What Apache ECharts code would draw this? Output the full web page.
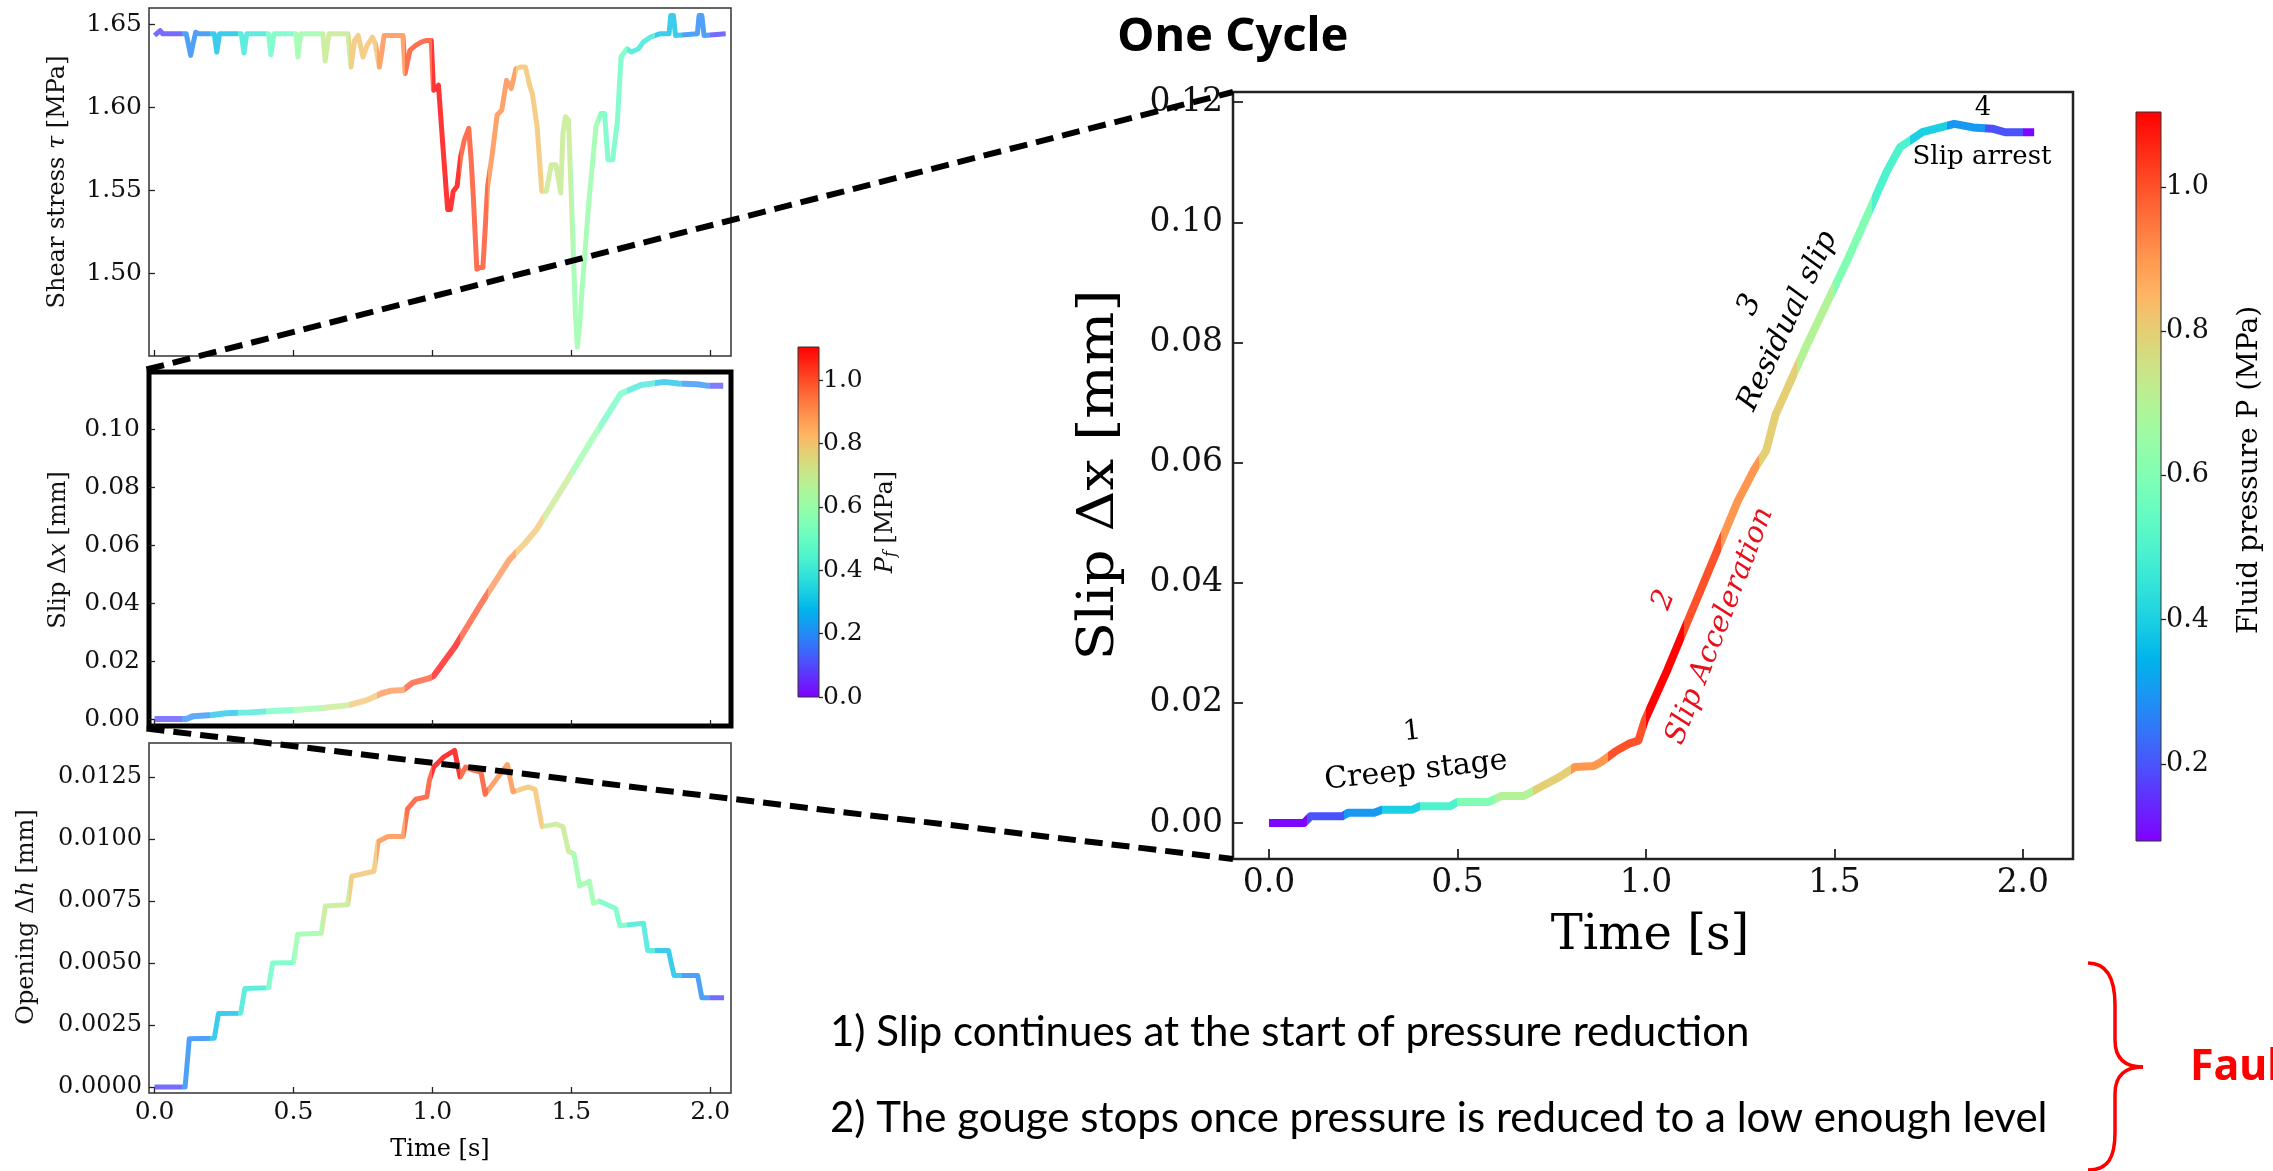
<!DOCTYPE html>
<html><head><meta charset="utf-8">
<script src="https://cdn.jsdelivr.net/npm/echarts@6/dist/echarts.min.js"></script>
<style>html,body{margin:0;padding:0;background:#fff}#c{width:2273px;height:1171px}</style>
</head><body><div id="c"></div>
<script>
// ---------------- data ----------------
const shearTime = [0.000,0.020,0.030,0.114,0.122,0.130,0.138,0.148,0.160,0.215,0.224,0.234,0.312,0.322,0.332,0.410,0.419,0.430,0.509,0.516,0.526,0.606,0.614,0.628,0.696,0.707,0.720,0.733,0.745,0.750,0.765,0.784,0.795,0.809,0.818,0.826,0.894,0.902,0.919,0.940,0.960,0.979,0.996,1.004,1.015,1.022,1.038,1.055,1.065,1.075,1.089,1.102,1.115,1.131,1.140,1.148,1.160,1.172,1.182,1.199,1.216,1.233,1.250,1.267,1.284,1.301,1.318,1.335,1.350,1.360,1.377,1.394,1.410,1.428,1.445,1.462,1.470,1.479,1.490,1.505,1.515,1.522,1.532,1.539,1.564,1.589,1.606,1.620,1.632,1.649,1.666,1.679,1.700,1.717,1.742,1.759,1.785,1.818,1.852,1.858,1.868,1.875,1.954,1.960,1.970,1.978,2.056];
const shearStress = [1.6434,1.6464,1.6444,1.6444,1.6380,1.6314,1.6380,1.6454,1.6444,1.6444,1.6334,1.6444,1.6444,1.6328,1.6444,1.6444,1.6318,1.6444,1.6444,1.6304,1.6444,1.6444,1.6280,1.6444,1.6444,1.6244,1.6404,1.6434,1.6344,1.6304,1.6374,1.6424,1.6384,1.6244,1.6334,1.6434,1.6434,1.6204,1.6344,1.6374,1.6394,1.6404,1.6404,1.6104,1.6114,1.6134,1.5764,1.5384,1.5384,1.5494,1.5524,1.5704,1.5804,1.5874,1.5674,1.5444,1.5024,1.5034,1.5034,1.5524,1.5724,1.5954,1.5984,1.6164,1.6114,1.6234,1.6244,1.6244,1.6134,1.6084,1.5884,1.5494,1.5494,1.5654,1.5654,1.5484,1.5844,1.5944,1.5924,1.5244,1.4754,1.4554,1.4724,1.4904,1.5444,1.5884,1.5964,1.5964,1.5684,1.5684,1.5914,1.6304,1.6354,1.6334,1.6354,1.6394,1.6424,1.6444,1.6444,1.6554,1.6554,1.6434,1.6444,1.6554,1.6554,1.6434,1.6444];

const slipSmallTime = [0,0.114,0.139,0.207,0.258,0.343,0.427,0.529,0.614,0.699,0.767,0.818,0.852,0.894,0.928,0.987,1.004,1.081,1.182,1.276,1.335,1.377,1.471,1.581,1.679,1.751,1.835,1.886,1.954,1.988,2.047];
const slipSmall = [0,0,0.0010,0.0014,0.0020,0.0023,0.0028,0.0033,0.0039,0.0048,0.0066,0.0089,0.0098,0.0100,0.0125,0.0140,0.0148,0.0249,0.0408,0.0548,0.0608,0.0657,0.0801,0.0974,0.1123,0.1152,0.1163,0.1157,0.1155,0.1150,0.1150];

const openingTime = [0,0.110,0.125,0.215,0.230,0.310,0.325,0.410,0.425,0.500,0.515,0.600,0.615,0.695,0.710,0.790,0.805,0.840,0.895,0.910,0.940,0.980,0.990,1.005,1.040,1.070,1.080,1.100,1.120,1.140,1.175,1.190,1.270,1.290,1.345,1.370,1.395,1.445,1.470,1.490,1.510,1.530,1.565,1.580,1.600,1.660,1.675,1.760,1.775,1.850,1.870,1.955,1.970,2.050];
const opening = [0,0,0.00195,0.00197,0.00296,0.00298,0.00397,0.00400,0.00500,0.00502,0.00616,0.00620,0.00730,0.00735,0.00850,0.00870,0.00990,0.01010,0.01010,0.01120,0.01160,0.01170,0.01240,0.01290,0.01330,0.01350,0.01357,0.01250,0.01290,0.01280,0.01270,0.01180,0.01300,0.01190,0.01210,0.01200,0.01050,0.01060,0.01050,0.00950,0.00940,0.00810,0.00830,0.00740,0.00750,0.00720,0.00650,0.00660,0.00550,0.00550,0.00450,0.00450,0.00360,0.00360];

const slipBigTime = [0,0.093,0.110,0.194,0.210,0.279,0.300,0.380,0.400,0.480,0.500,0.583,0.617,0.676,0.718,0.769,0.811,0.862,0.880,0.921,0.955,0.980,0.997,1.057,1.150,1.243,1.285,1.319,1.344,1.430,1.538,1.640,1.674,1.733,1.818,1.868,1.919,1.953,2.030];
const slipBig = [0,0,0.0011,0.0011,0.0017,0.0017,0.0022,0.0022,0.0028,0.0028,0.0035,0.0035,0.0045,0.0045,0.0059,0.0076,0.0093,0.0095,0.0101,0.0120,0.0132,0.0137,0.0171,0.0255,0.0395,0.0535,0.0586,0.0620,0.0680,0.0800,0.0942,0.1086,0.1125,0.1150,0.1164,0.1158,0.1156,0.1150,0.1150];

// fluid pressure schedule (step starts in s, value in MPa)
const pressureStart = [0.0,0.1,0.2,0.3,0.4,0.5,0.6,0.7,0.8,0.9,1.0,1.1,1.2,1.3,1.4,1.5,1.6,1.7,1.8,1.9,2.0];
const pressure      = [0.1,0.2,0.3,0.4,0.5,0.6,0.7,0.8,0.9,1.0,1.1,1.0,0.9,0.8,0.7,0.6,0.5,0.4,0.3,0.2,0.1];

// tick labels
const timeTicks = [0.0,0.5,1.0,1.5,2.0];
const shearTicks = [1.50,1.55,1.60,1.65];
const slipSmallTicks = [0.00,0.02,0.04,0.06,0.08,0.10];
const openingTicks = [0.0000,0.0025,0.0050,0.0075,0.0100,0.0125];
const slipBigTicks = [0.00,0.02,0.04,0.06,0.08,0.10,0.12];
const pfTicks = [0.0,0.2,0.4,0.6,0.8,1.0];
const fluidTicks = [0.2,0.4,0.6,0.8,1.0];

// ---------------- layout ----------------
const SERIF = 'DejaVu Serif';
const SANS = 'Noto Sans';
const G = {
  top: {left:149, top:8,   width:582, height:348},
  mid: {left:149, top:372, width:582, height:354},
  bot: {left:149, top:743, width:582, height:350},
  big: {left:1233, top:92, width:840, height:767},
  cb1: {left:798, top:347, width:21, height:350},
  cb2: {left:2136, top:112, width:25, height:729}
};

function rainbow(x){
  x = Math.max(0, Math.min(1, x));
  const r = Math.min(1, Math.abs(2*x-0.5)), g = Math.sin(Math.PI*x), b = Math.cos(Math.PI*x/2);
  return 'rgb(' + Math.round(r*255) + ',' + Math.round(g*255) + ',' + Math.round(b*255) + ')';
}
function pieces(lo, hi){
  return pressureStart.map((s,i) => ({
    gte: i === 0 ? -10 : s,
    lt: i === pressureStart.length-1 ? 10 : pressureStart[i+1],
    color: rainbow((pressure[i]-lo)/(hi-lo))
  }));
}
function gradient(){
  const stops = [];
  for (let i=0;i<=20;i++) stops.push({offset:i/20, color: rainbow(1-i/20)});
  return {type:'linear', x:0, y:0, x2:0, y2:1, colorStops: stops};
}
const zip = (a,b) => a.slice(0, Math.min(a.length,b.length)).map((v,i)=>[v,b[i]]);

function axis(gi, min, max, o){
  return {
    gridIndex: gi, type:'value', min, max, show: o.show !== false,
    position: o.position,
    axisLine: {show:false, onZero:false},
    splitLine: {show:false},
    axisTick: {show: !!o.ticks, inside: o.inside !== false, length: o.tickLen || 6,
      customValues: o.ticks, lineStyle:{color:'#222', width: o.tickW || 1.3}},
    axisLabel: {show: !!o.labels, customValues: o.ticks, margin: o.margin || 8,
      formatter: v => Number(v).toFixed(o.dec), fontFamily: SERIF, fontSize: o.fs || 25, color:'#111'}
  };
}

const grids = [G.top, G.mid, G.bot, G.big, G.cb1, G.cb2].map((g,i) => Object.assign({}, g, {
  show: true, containLabel: false,
  backgroundColor: i >= 4 ? gradient() : 'transparent',
  borderColor: i === 1 ? '#000' : (i === 3 ? '#222' : '#333'),
  borderWidth: i === 1 ? 5 : (i === 3 ? 2.5 : (i >= 4 ? 1 : 1.5))
}));

const xAxes = [
  axis(0, -0.02, 2.075, {ticks: timeTicks, labels:false, dec:1}),
  axis(1, -0.02, 2.075, {ticks: timeTicks, labels:false, dec:1}),
  axis(2, -0.02, 2.075, {ticks: timeTicks, labels:true, dec:1, fs:25, margin:7}),
  axis(3, -0.0955, 2.133, {ticks: timeTicks, labels:true, dec:1, fs:33, margin:8, tickLen:10, tickW:1.8}),
  {gridIndex:4, type:'value', show:false, min:0, max:1},
  {gridIndex:5, type:'value', show:false, min:0, max:1}
];
const yAxes = [
  axis(0, 1.45, 1.66, {ticks: shearTicks, labels:true, dec:2, fs:25, margin:7}),
  axis(1, -0.0024, 0.1197, {ticks: slipSmallTicks, labels:true, dec:2, fs:25, margin:9}),
  axis(2, -0.00024, 0.01387, {ticks: openingTicks, labels:true, dec:4, fs:24, margin:7}),
  axis(3, -0.006, 0.1217, {ticks: slipBigTicks, labels:true, dec:2, fs:33, margin:10, tickLen:10, tickW:1.8}),
  axis(4, 0, 1.105, {ticks: pfTicks, labels:true, dec:1, fs:25, margin:4, inside:false, tickLen:4, position:'right'}),
  axis(5, 0.093, 1.104, {ticks: fluidTicks, labels:true, dec:1, fs:27, margin:5, inside:false, tickLen:5, position:'right'})
];

function lineSeries(i, data, width, opacity){
  return {type:'line', xAxisIndex:i, yAxisIndex:i, data, showSymbol:false, symbol:'none',
    animation:false, z: 3,
    lineStyle:{width, opacity, cap:'butt', join:'round'}};
}
const series = [
  lineSeries(0, zip(shearTime, shearStress), 5, 0.8),
  lineSeries(1, zip(slipSmallTime, slipSmall), 6, 0.72),
  lineSeries(2, zip(openingTime, opening), 5, 0.8),
  lineSeries(3, zip(slipBigTime, slipBig), 8, 1)
];
const visualMap = [
  {type:'piecewise', show:false, seriesIndex:0, dimension:0, pieces: pieces(0, 1.105)},
  {type:'piecewise', show:false, seriesIndex:1, dimension:0, pieces: pieces(0, 1.105)},
  {type:'piecewise', show:false, seriesIndex:2, dimension:0, pieces: pieces(0, 1.105)},
  {type:'piecewise', show:false, seriesIndex:3, dimension:0, pieces: pieces(0.093, 1.104)}
];

// ---------------- annotations ----------------
function txt(x, y, text, o){
  o = o || {};
  return {type:'text', x, y, rotation: o.rot || 0, scaleX: o.sx || 1, z: 50, silent:true,
    style:{text, fill: o.fill || '#000', fontSize: o.fs || 24, fontFamily: o.ff || SERIF,
      fontStyle: o.italic ? 'italic' : 'normal', fontWeight: o.bold ? 'bold' : 'normal',
      textAlign: o.align || 'center', textVerticalAlign: 'middle', rich: o.rich}};
}
const R90 = Math.PI/2;
const richSmall = {
  n:{fontFamily:SERIF, fontSize:24, fill:'#111'},
  i:{fontFamily:SERIF, fontSize:24, fontStyle:'italic', fill:'#111'},
  s:{fontFamily:SERIF, fontSize:16, fontStyle:'italic', fill:'#111', padding:[10,0,0,0]}
};
const mid = G.mid, big = G.big;
const dash = {stroke:'#000', lineWidth:6, lineDash:[18,9]};
const red = '#ff0000';
const BUL = 'Lato';
const graphic = [
  // zoom lines from the boxed slip panel to the enlarged cycle
  {type:'line', z:100, silent:true, shape:{x1: mid.left-2.5, y1: mid.top-2.5, x2: big.left, y2: big.top}, style: dash},
  {type:'line', z:100, silent:true, shape:{x1: mid.left-2.5, y1: mid.top+mid.height+2.5, x2: big.left, y2: big.top+big.height}, style: dash},
  txt(1233, 38, 'One Cycle', {ff:SANS, bold:true, fs:47}),
  txt(58, 182, '{n|Shear stress }{i|τ}{n| [MPa]}', {rot:R90, rich:richSmall}),
  txt(59, 550, '{n|Slip Δ}{i|x}{n| [mm]}', {rot:R90, rich:richSmall}),
  txt(27, 917, '{n|Opening Δ}{i|h}{n| [mm]}', {rot:R90, rich:richSmall}),
  txt(440, 1150, 'Time [s]', {fs:24}),
  txt(886, 522, '{i|P}{s|f}{n| [MPa]}', {rot:R90, rich:richSmall}),
  txt(1100, 475, 'Slip Δx [mm]', {rot:R90, fs:50, sx:1.13}),
  txt(1650, 937, 'Time [s]', {fs:48}),
  txt(2250, 470, 'Fluid pressure P (MPa)', {rot:R90, fs:28}),
  txt(1412, 732, '1', {fs:28, rot:0.11}),
  txt(1416, 771, 'Creep stage', {fs:30, rot:0.11}),
  txt(1664, 600, '2', {fs:29, rot:1.2, italic:true, fill:'#e8101a'}),
  txt(1720, 626, 'Slip Acceleration', {fs:29, rot:1.2, italic:true, fill:'#e8101a'}),
  txt(1750, 305, '3', {fs:30, rot:1.13, italic:true}),
  txt(1788, 321, 'Residual slip', {fs:30, rot:1.13, italic:true}),
  txt(1983, 108, '4', {fs:26}),
  txt(1982, 157, 'Slip arrest', {fs:26}),
  txt(830, 1032, '1) Slip continues at the start of pressure reduction', {ff:BUL, fs:42, align:'left'}),
  txt(830, 1118, '2) The gouge stops once pressure is reduced to a low enough level', {ff:BUL, fs:42, align:'left'}),
  txt(2190, 1068, 'Fault', {ff:SANS, fs:43, bold:true, align:'left', fill:red}),
  // curly brace
  {type:'bezierCurve', silent:true, shape:{x1:2088,y1:963,cpx1:2108,cpy1:963,cpx2:2115,cpy2:980,x2:2115,y2:1005}, style:{stroke:red, lineWidth:3.5, fill:null}},
  {type:'line', silent:true, shape:{x1:2115,y1:1005,x2:2115,y2:1040}, style:{stroke:red, lineWidth:3.5}},
  {type:'bezierCurve', silent:true, shape:{x1:2115,y1:1040,cpx1:2115,cpy1:1060,cpx2:2126,cpy2:1067,x2:2143,y2:1067}, style:{stroke:red, lineWidth:3.5, fill:null}},
  {type:'bezierCurve', silent:true, shape:{x1:2143,y1:1067,cpx1:2126,cpy1:1067,cpx2:2115,cpy2:1074,x2:2115,y2:1094}, style:{stroke:red, lineWidth:3.5, fill:null}},
  {type:'line', silent:true, shape:{x1:2115,y1:1094,x2:2115,y2:1132}, style:{stroke:red, lineWidth:3.5}},
  {type:'bezierCurve', silent:true, shape:{x1:2115,y1:1132,cpx1:2115,cpy1:1158,cpx2:2108,cpy2:1170,x2:2088,y2:1170}, style:{stroke:red, lineWidth:3.5, fill:null}}
];

const chart = echarts.init(document.getElementById('c'), null, {renderer:'canvas'});
chart.setOption({
  animation:false,
  backgroundColor:'#fff',
  grid: grids, xAxis: xAxes, yAxis: yAxes,
  visualMap, series, graphic
});
</script></body></html>
